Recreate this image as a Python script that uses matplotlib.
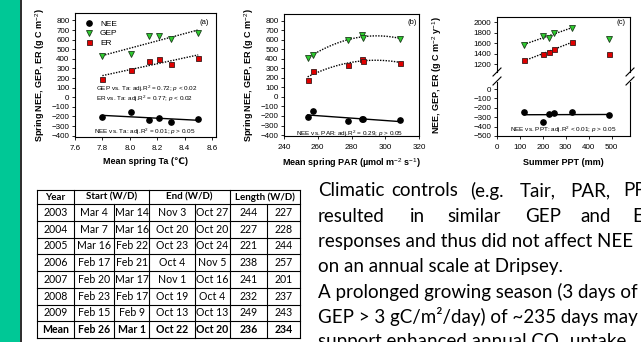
import numpy as np
import matplotlib.pyplot as plt
from matplotlib.patches import Rectangle

plt.rcParams['font.family'] = ['Liberation Sans', 'DejaVu Sans']
plt.rcParams['mathtext.fontset'] = 'custom'
plt.rcParams['mathtext.rm'] = 'Liberation Sans'
plt.rcParams['mathtext.it'] = 'Liberation Sans:italic'
plt.rcParams['mathtext.bf'] = 'Liberation Sans:bold'

W, H = 641, 342

# (a) spring fluxes vs mean spring air temperature
ta = [7.80, 8.01, 8.14, 8.21, 8.30, 8.50]
nee_ta = [-208, -149, -236, -219, -253, -226]
gep_ta = [427, 451, 635, 635, 608, 670]
er_ta = [191, 288, 378, 399, 347, 413]

# (b) spring fluxes vs mean spring PAR
par = [254, 257, 278, 286, 287, 309]
nee_par = [-210, -150, -255, -227, -236, -245]
gep_par = [413, 437, 594, 647, 622, 612]
er_par = [182, 273, 332, 395, 378, 360]

# (c) annual fluxes vs summer precipitation
ppt = [118, 200, 226, 250, 325, 490]
nee_ppt = [-245, -350, -262, -258, -240, -280]
gep_ppt = [1570, 1745, 1710, 1800, 1890, 1690]
er_ppt = [1285, 1390, 1430, 1500, 1630, 1400]

# growing season table
years = ['2003', '2004', '2005', '2006', '2007', '2008', '2009', 'Mean']
start_w = ['Mar 4', 'Mar 7', 'Mar 16', 'Feb 17', 'Feb 20', 'Feb 23', 'Feb 15', 'Feb 26']
start_d = ['Mar 14', 'Mar 16', 'Feb 22', 'Feb 21', 'Mar 17', 'Feb 17', 'Feb 9', 'Mar 1']
end_w = ['Nov 3', 'Oct 20', 'Oct 23', 'Oct 4', 'Nov 1', 'Oct 19', 'Oct 13', 'Oct 22']
end_d = ['Oct 27', 'Oct 20', 'Oct 24', 'Nov 5', 'Oct 16', 'Oct 4', 'Oct 13', 'Oct 20']
len_w = ['244', '227', '221', '238', '241', '232', '249', '236']
len_d = ['227', '228', '244', '257', '201', '237', '243', '234']
header = ['Year', 'Start (W/D)', 'End (W/D)', 'Length (W/D)']

fig = plt.figure(figsize=(W / 100, H / 100), dpi=100)


def px_axes(l, t, r, b):
    return fig.add_axes([l / W, 1 - b / H, (r - l) / W, (b - t) / H])


def style(ax):
    for s in ax.spines.values():
        s.set_linewidth(0.8)
    ax.tick_params(direction='out', length=2.5, width=0.6, labelsize=5.8, pad=1.5)
    ax.tick_params(axis='x', pad=3)


def points(ax, x, nee, gep, er):
    ax.plot(x, nee, 'o', color='black', ms=3.8, zorder=4)
    ax.plot(x, gep, 'v', mfc='#2ecc2e', mec='#1d3d1d', mew=0.6, ms=4.2, zorder=4)
    ax.plot(x, er, 's', mfc='#e00000', mec='#3a1a1a', mew=0.6, ms=3.6, zorder=4)


def fit(ax, x, y, deg, ls):
    c = np.polyfit(x, y, deg)
    xx = np.linspace(min(x), max(x), 50)
    ax.plot(xx, np.polyval(c, xx), color='black', lw=1.0, ls=ls, zorder=3)


dots = (0, (1, 1))
ylab = 'Spring NEE, GEP, ER (g C m$^{-2}$)'
lab = dict(fontsize=6.5, fontweight='bold')

# ---- panel (a)
ax1 = px_axes(75, 13, 216, 137)
style(ax1)
points(ax1, ta, nee_ta, gep_ta, er_ta)
fit(ax1, ta, gep_ta, 1, dots)
fit(ax1, ta, er_ta, 1, dots)
fit(ax1, ta, nee_ta, 1, '-')
ax1.set_xlim(7.6, 8.63)
ax1.set_ylim(-414, 877)
ax1.set_xticks(np.arange(7.6, 8.61, 0.2))
ax1.set_yticks(np.arange(-400, 801, 100))
ax1.set_xlabel('Mean spring Ta (\u2103)', labelpad=4, **lab)
ax1.set_ylabel(ylab, labelpad=3, **lab)
ax1.legend(['NEE', 'GEP', 'ER'], loc='upper left', frameon=False, fontsize=6,
           handletextpad=0.6, labelspacing=0.15, borderaxespad=0.5, handlelength=1.5)

# ---- panel (b)
ax2 = px_axes(284, 14, 419, 136)
style(ax2)
points(ax2, par, nee_par, gep_par, er_par)
fit(ax2, par, gep_par, 2, dots)
fit(ax2, par, er_par, 2, dots)
fit(ax2, par, nee_par, 1, '-')
ax2.set_xlim(240, 320)
ax2.set_ylim(-410, 870)
ax2.set_xticks(np.arange(240, 321, 20))
ax2.set_yticks(np.arange(-400, 801, 100))
ax2.set_xlabel('Mean spring PAR (\u00b5mol m$^{-2}$ s$^{-1}$)', labelpad=4, **lab)
ax2.set_ylabel(ylab, labelpad=3, **lab)

# ---- panel (c), broken y axis
ax3 = px_axes(497, 16.7, 630, 72.3)
ax4 = px_axes(497, 82, 630, 136)
for ax in (ax3, ax4):
    style(ax)
    points(ax, ppt, nee_ppt, gep_ppt, er_ppt)
    ax.set_xlim(0, 580)
fit(ax3, ppt[:5], gep_ppt[:5], 1, dots)
fit(ax3, ppt[:5], er_ppt[:5], 1, dots)
fit(ax4, ppt, nee_ppt, 1, '-')
ax3.set_ylim(1050, 2110)
ax3.set_yticks(np.arange(1200, 2001, 200))
ax3.spines['bottom'].set_visible(False)
ax3.tick_params(axis='x', bottom=False, labelbottom=False)
ax4.set_ylim(-500, 75)
ax4.set_yticks(np.arange(-500, 1, 100))
ax4.set_xticks(np.arange(0, 501, 100))
ax4.spines['top'].set_visible(False)
ax4.set_xlabel('Summer PPT (mm)', labelpad=5, **lab)
fig.text(437 / W, 1 - 75 / H, 'NEE, GEP, ER (g C m$^{-2}$ y$^{-1}$)', rotation=90,
         ha='center', va='center', **lab)

# ---- overlay in pixel coordinates
ov = fig.add_axes([0, 0, 1, 1], zorder=10)
ov.set_xlim(0, W)
ov.set_ylim(H, 0)
ov.axis('off')

ov.add_patch(Rectangle((0, 0), 19.5, H, color='#00c896', lw=0))
ov.plot([20.5, 20.5], [0, H], color='#2b2b2b', lw=1.4)

ann = dict(fontsize=4.6, ha='center', va='center')
ov.text(204, 22.7, '(a)', fontsize=5.5, ha='center', va='center')
ov.text(147, 89.3, 'GEP vs. Ta: adj.R$^2$ = 0.72; $p$ < 0.02', **ann)
ov.text(145, 99.3, 'ER vs. Ta: adj.R$^2$ = 0.77; $p$ < 0.02', **ann)
ov.text(145, 131.7, 'NEE vs. Ta: adj.R$^2$ = 0.01; $p$ > 0.05', **ann)
ov.text(412, 22.7, '(b)', fontsize=5.5, ha='center', va='center')
ov.text(350, 134, 'NEE vs. PAR: adj.R$^2$ = 0.29; $p$ > 0.05', **ann)
ov.text(621, 22.7, '(c)', fontsize=5.5, ha='center', va='center')
ov.text(563, 130, 'NEE vs. PPT: adj.R$^2$ < 0.01; $p$ > 0.05', **ann)

# axis-break marks
for x0 in (497, 630):
    for y0 in (72, 81):
        ov.plot([x0 - 4, x0 + 4], [y0 + 4, y0 - 4], color='black', lw=0.8)

# ---- table
cols = [36.7, 74, 114.3, 149.3, 195, 230, 266.7, 300]
rows = [190, 204] + [204 + 16.75 * (i + 1) for i in range(8)]
tfont = ['Lato', 'DejaVu Sans']
for y in rows:
    ov.plot([cols[0], cols[-1]], [y, y], color='black', lw=0.8)
for x in [cols[0], cols[1], cols[3], cols[5], cols[-1]]:
    ov.plot([x, x], [rows[0], rows[-1]], color='black', lw=0.8)
for x in [cols[2], cols[4], cols[6]]:
    ov.plot([x, x], [rows[1], rows[-1]], color='black', lw=0.8)
hx = [(cols[0] + cols[1]) / 2, (cols[1] + cols[3]) / 2, (cols[3] + cols[5]) / 2,
      (cols[5] + cols[7]) / 2]
for x, t in zip(hx, header):
    ov.text(x, (rows[0] + rows[1]) / 2, t, family=tfont, fontsize=7, fontweight='bold',
            ha='center', va='center')
table_cols = [years, start_w, start_d, end_w, end_d, len_w, len_d]
for j, col in enumerate(table_cols):
    xc = (cols[j] + cols[j + 1]) / 2
    for i, t in enumerate(col):
        ov.text(xc, (rows[i + 1] + rows[i + 2]) / 2, t, family=tfont, fontsize=7.6,
                fontweight='bold' if i == 7 else 'normal', ha='center', va='center')

# ---- paragraph text (justified, cut at the right edge as in the poster)
pfont = dict(family=tfont, fontsize=13.5, va='center', ha='left')
line1 = [('Climatic', 318), ('controls', 391), ('(e.g.', 470), ('Tair,', 520),
         ('PAR,', 570), ('PPT', 623)]
line2 = [('resulted', 318), ('in', 410), ('similar', 447), ('GEP', 525), ('and', 580),
         ('E', 632)]
for w, x in line1:
    ov.text(x, 191, w, **pfont)
for w, x in line2:
    ov.text(x, 216.7, w, **pfont)
ov.text(318, 241.7, 'responses and thus did not affect NEE', **pfont)
ov.text(318, 266.7, 'on an annual scale at Dripsey.', **pfont)
ov.text(318, 291.7, 'A prolonged growing season (3 days of', **pfont)
ov.text(318, 316.7, 'GEP > 3 gC/m\u00b2/day) of ~235 days may', **pfont)
ov.text(318, 341.5, 'support enhanced annual CO\u2082 uptake', **pfont)

fig.savefig('out.png', dpi=100)
